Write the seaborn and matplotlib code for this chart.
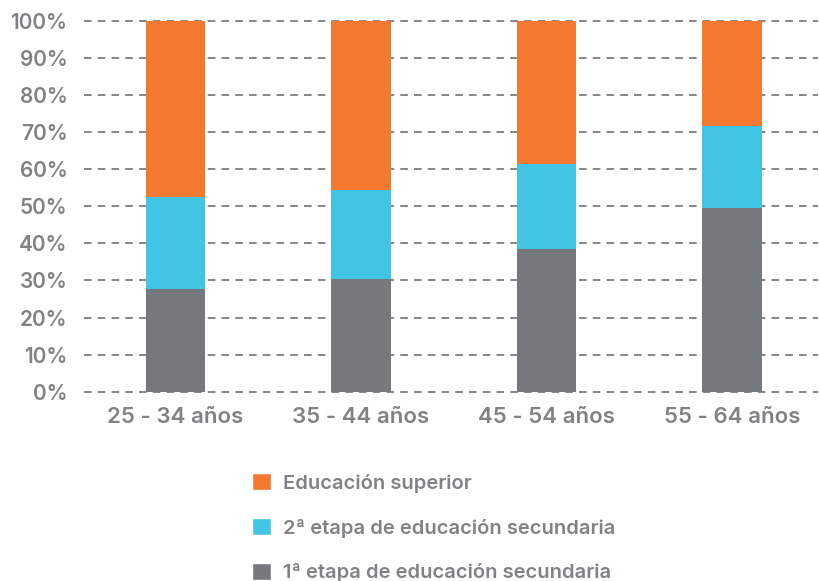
import matplotlib
matplotlib.use("Agg")
import matplotlib.pyplot as plt
import seaborn as sns
import pandas as pd
import numpy as np
from matplotlib.patches import Patch

categories = ["25 - 34 años", "35 - 44 años", "45 - 54 años", "55 - 64 años"]
primera = [27.7, 30.4, 38.5, 49.5]
segunda = [24.7, 24.0, 23.0, 22.2]
superior = [47.6, 45.6, 38.5, 28.3]
series_names = ["Educación superior", "2ª etapa de educación secundaria", "1ª etapa de educación secundaria"]
yticks = [0, 10, 20, 30, 40, 50, 60, 70, 80, 90, 100]

c_sup = "#F47930"
c_seg = "#42C5E5"
c_pri = "#76797C"
txt = "#808285"

sns.set_theme(style="white")
plt.rcParams["font.family"] = ["Inter", "DejaVu Sans"]

df = pd.DataFrame({"cat": categories,
                   "pri": primera,
                   "seg": np.array(primera) + np.array(segunda),
                   "sup": np.array(primera) + np.array(segunda) + np.array(superior)})

fig = plt.figure(figsize=(8.19, 5.81), dpi=100)
ax = fig.add_axes([84/819, (581-391.7)/581, (818-84)/819, (391.7-20.7)/581])

w = 0.32
sns.barplot(data=df, x="cat", y="sup", color=c_sup, width=w, saturation=1, ax=ax, zorder=3)
sns.barplot(data=df, x="cat", y="seg", color=c_seg, width=w, saturation=1, ax=ax, zorder=3)
sns.barplot(data=df, x="cat", y="pri", color=c_pri, width=w, saturation=1, ax=ax, zorder=3)
for p in ax.patches:
    p.set_linewidth(0)

ax.set_ylim(0, 100)
ax.set_xlim(-0.493, 3.464)
ax.set_yticks(yticks)
ax.set_yticklabels([f"{t}%" for t in yticks])
for t in yticks:
    ax.axhline(t, color="#666666", lw=1.1, ls=(0, (5, 4)), zorder=1, clip_on=False)
for s in ax.spines.values():
    s.set_visible(False)
ax.set_xlabel("")
ax.set_ylabel("")
ax.tick_params(axis="y", length=0, pad=12, labelsize=15, labelcolor=txt)
ax.tick_params(axis="x", length=0, pad=11, labelsize=16, labelcolor=txt)
for lab in ax.get_yticklabels() + ax.get_xticklabels():
    lab.set_fontweight("semibold")

handles = [Patch(facecolor=c_sup), Patch(facecolor=c_seg), Patch(facecolor=c_pri)]
leg = fig.legend(handles, series_names, loc="upper left", bbox_to_anchor=(234/819, 1 - 455/581),
                 frameon=False, handlelength=0.95, handleheight=0.95, labelspacing=1.25,
                 handletextpad=0.6, prop={"size": 14.5, "weight": "semibold"})
for t in leg.get_texts():
    t.set_color(txt)

fig.savefig("out.png", dpi=100)
